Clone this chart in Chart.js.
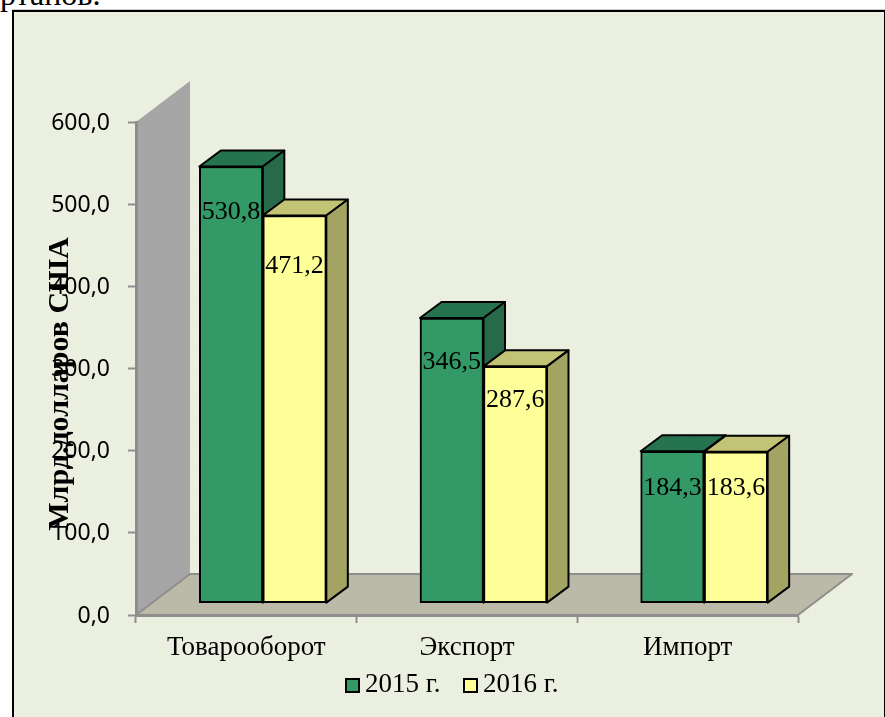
<!DOCTYPE html>
<html>
<head>
<meta charset="utf-8">
<style>
   html, body { margin: 0; padding: 0; width: 885px; height: 717px; overflow: hidden; background: #fff; }
   #frame {
      position: absolute; left: 12px; top: 10px; width: 870px; height: 740px;
      border: 2px solid #000; box-shadow: 0 -1px 0 #ccc;
      background-color: #ecf0e1;
      background-image: linear-gradient(45deg, #e9eddd 25%, transparent 25%, transparent 75%, #e9eddd 75%);
      background-size: 3px 3px;
   }
   #textAbove {
      position: absolute; left: 0; top: -24px; line-height: 30px; white-space: nowrap;
      font: 32px 'Liberation Serif', serif; color: #000;
   }
   #myChart { position: absolute; left: 0; top: 0; }
</style>
</head>
<body>
<div id="textAbove">ртанов.</div>
<div id="frame"></div>
<canvas id="myChart" width="885" height="717"></canvas>

<script src="https://cdn.jsdelivr.net/npm/chart.js@4"></script>
<script>
const categories = ['Товарооборот', 'Экспорт', 'Импорт'];
const seriesNames = ['2015 г.', '2016 г.'];
const values2015 = [530.8, 346.5, 184.3];
const values2016 = [471.2, 287.6, 183.6];
const axisTitle = 'Млрд.долларов США';

const serif = "'Liberation Serif', serif";

// colours of the faces: front, top, side
const greenFaces = ['#339966', '#267350', '#266a4a'];
const yellowFaces = ['#ffff99', '#c3c376', '#a4a462'];

// the floor and wall of the fake 3D box, and the depth of a bar
const boxDepth = { x: 54, y: -41 };
const barDepth = { x: 21.5, y: -16 };

// how far each bar sits from the front corner of the box
const barShiftX = 16.5 / 220.67;
const barShiftY = 15;

// how far below the top of its bar each value label sits, px
const labelDrop = [[46, 44, 37], [51, 34, 36]];

function fmt(v) {
   return v.toFixed(1).replace('.', ',');
}

function poly(ctx, pts, fill, stroke, width) {
   ctx.beginPath();
   pts.forEach((p, i) => i ? ctx.lineTo(p[0], p[1]) : ctx.moveTo(p[0], p[1]));
   ctx.closePath();
   ctx.fillStyle = fill;
   ctx.fill();
   if (stroke) {
      ctx.strokeStyle = stroke;
      ctx.lineWidth = width;
      ctx.lineJoin = 'round';
      ctx.stroke();
   }
}

const fake3d = {
   id: 'fake3d',
   beforeDraw(chart) {
      const ctx = chart.ctx;
      const a = chart.chartArea;
      const dx = boxDepth.x, dy = boxDepth.y;

      ctx.save();
      poly(ctx, [[a.left, a.top], [a.left + dx, a.top + dy], [a.left + dx, a.bottom + dy], [a.left, a.bottom]], '#a6a6a6');
      poly(ctx, [[a.left, a.bottom], [a.left + dx, a.bottom + dy], [a.right + dx, a.bottom + dy], [a.right, a.bottom]], '#bbb9a8', '#8e8e8e', 2);
      ctx.restore();
   },
   beforeDatasetsDraw(chart) {
      const ctx = chart.ctx;
      const dx = barDepth.x, dy = barDepth.y;

      ctx.save();
      chart.data.datasets.forEach((ds, d) => {
         chart.getDatasetMeta(d).data.forEach(bar => {
            const l = bar.x - bar.width / 2, r = bar.x + bar.width / 2;
            poly(ctx, [[l, bar.y], [l + dx, bar.y + dy], [r + dx, bar.y + dy], [r, bar.y]], ds.faces[1], '#000', 2);
            poly(ctx, [[r, bar.y], [r + dx, bar.y + dy], [r + dx, bar.base + dy], [r, bar.base]], ds.faces[2], '#000', 2);
         });
      });
      ctx.restore();
   },
   afterDatasetsDraw(chart) {
      const ctx = chart.ctx;

      ctx.save();
      ctx.fillStyle = '#000';
      ctx.textAlign = 'center';
      ctx.textBaseline = 'middle';
      ctx.font = '26px ' + serif;
      chart.data.datasets.forEach((ds, d) => {
         chart.getDatasetMeta(d).data.forEach((bar, i) => {
            ctx.fillText(fmt(ds.data[i].y), bar.x, bar.y + labelDrop[d][i]);
         });
      });

      // axis title runs over the tick labels, as in the original
      ctx.translate(68, 384);
      ctx.rotate(-Math.PI / 2);
      ctx.textBaseline = 'alphabetic';
      ctx.font = 'bold 30px ' + serif;
      ctx.fillText(axisTitle, 0, 0);
      ctx.restore();
   },
   afterDraw(chart) {
      const ctx = chart.ctx;
      const boxX = [345, 463];

      ctx.save();
      ctx.font = '27px ' + serif;
      ctx.textBaseline = 'middle';
      chart.data.datasets.forEach((ds, d) => {
         ctx.fillStyle = ds.backgroundColor;
         ctx.fillRect(boxX[d], 678, 15, 15);
         ctx.strokeStyle = '#000';
         ctx.lineWidth = 2;
         ctx.strokeRect(boxX[d] + 1, 679, 13, 13);
         ctx.fillStyle = '#000';
         ctx.fillText(ds.label, boxX[d] + 20, 685);
      });
      ctx.restore();
   }
};

const myChart = new Chart(document.getElementById('myChart').getContext('2d'), {
   type: 'bar',
   data: {
      labels: categories,
      datasets: [
         {
            label: seriesNames[0],
            data: values2015.map((y, x) => ({ x, y })),
            backgroundColor: greenFaces[0],
            faces: greenFaces,
            xAxisID: 'xBars',
            yAxisID: 'yBars'
         },
         {
            label: seriesNames[1],
            data: values2016.map((y, x) => ({ x, y })),
            backgroundColor: yellowFaces[0],
            faces: yellowFaces,
            xAxisID: 'xBars',
            yAxisID: 'yBars'
         }
      ]
   },
   options: {
      responsive: false,
      animation: false,
      layout: { padding: { top: 122, left: 18, right: 87, bottom: 0 } },
      datasets: {
         bar: {
            borderColor: '#000',
            borderWidth: 2,
            borderSkipped: false,
            barThickness: 63.5
         }
      },
      plugins: {
         legend: { display: false },
         tooltip: { enabled: false }
      },
      scales: {
         x: {
            type: 'category',
            offset: true,
            afterFit: s => { s.height = 102; },
            border: { color: '#8e8e8e', width: 3 },
            grid: { offset: true, drawOnChartArea: false, tickLength: 8, tickWidth: 2, tickColor: '#8e8e8e' },
            ticks: { color: '#000', padding: 9, maxRotation: 0, font: { family: serif, size: 27 } }
         },
         y: {
            min: 0,
            max: 600,
            afterFit: s => { s.width = 118; },
            border: { color: '#8e8e8e', width: 3 },
            grid: { drawOnChartArea: false, tickLength: 8, tickWidth: 2, tickColor: '#8e8e8e' },
            ticks: {
               stepSize: 100,
               color: '#000',
               padding: 18,
               labelOffset: 1,
               callback: v => fmt(v),
               font: { family: "'Noto Sans', sans-serif", size: 23 }
            }
         },
         // the bars stand inside the box, so they use the same px per unit but start further in
         xBars: { type: 'linear', display: false, offset: false, min: -0.5 - barShiftX, max: 2.5 - barShiftX },
         yBars: { type: 'linear', display: false, min: -barShiftY, max: 600 - barShiftY }
      }
   },
   plugins: [fake3d]
});
</script>
</body>
</html>
